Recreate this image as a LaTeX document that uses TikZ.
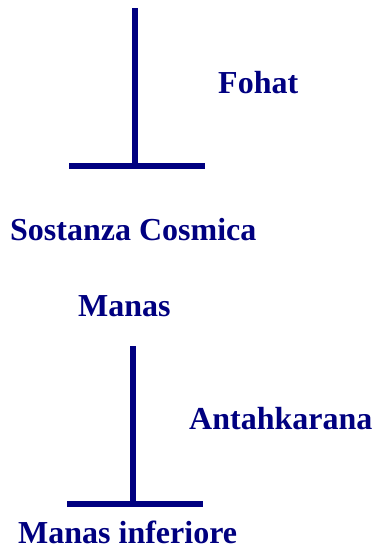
\documentclass[tikz,border=0pt]{standalone}
\usepackage{fontspec}
\setmainfont{Liberation Serif}
\usepackage{tikz}
\usetikzlibrary{positioning,calc}
\definecolor{tblue}{HTML}{000080}

\begin{document}
\begin{tikzpicture}[x=1pt, y=-1pt,
        lbl/.style={anchor=base west, inner sep=0pt, text=tblue,
                    font=\fontsize{32}{38}\selectfont\bfseries},
        bar/.style={draw=tblue, line width=6pt}]
        \useasboundingbox (0,0) rectangle (374,552);
        % upper T
        \coordinate (t1) at (135,8);
        \coordinate (b1) at (135,165.5);
        \coordinate (l1) at (69,165.5);
        \coordinate (r1) at (205,165.5);
        \draw[bar] (t1) -- (b1); \draw[bar] (l1) -- (r1);
        \node[lbl] (fohat) at (218,93) {Fohat};
        \node[lbl] (sostanza) at (10,240) {Sostanza Cosmica};
        % lower T
        \node[lbl] (manas) at (78,316.5) {Manas};
        \coordinate (t2) at (132.5,346);
        \coordinate (b2) at (132.5,504);
        \coordinate (l2) at (67,504);
        \coordinate (r2) at (203,504);
        \draw[bar] (t2) -- (b2); \draw[bar] (l2) -- (r2);
        \node[lbl] (antah) at (189,429) {Antahkarana};
        \node[lbl] (inferiore) at (18,543) {Manas inferiore};
      \end{tikzpicture}
\end{document}
